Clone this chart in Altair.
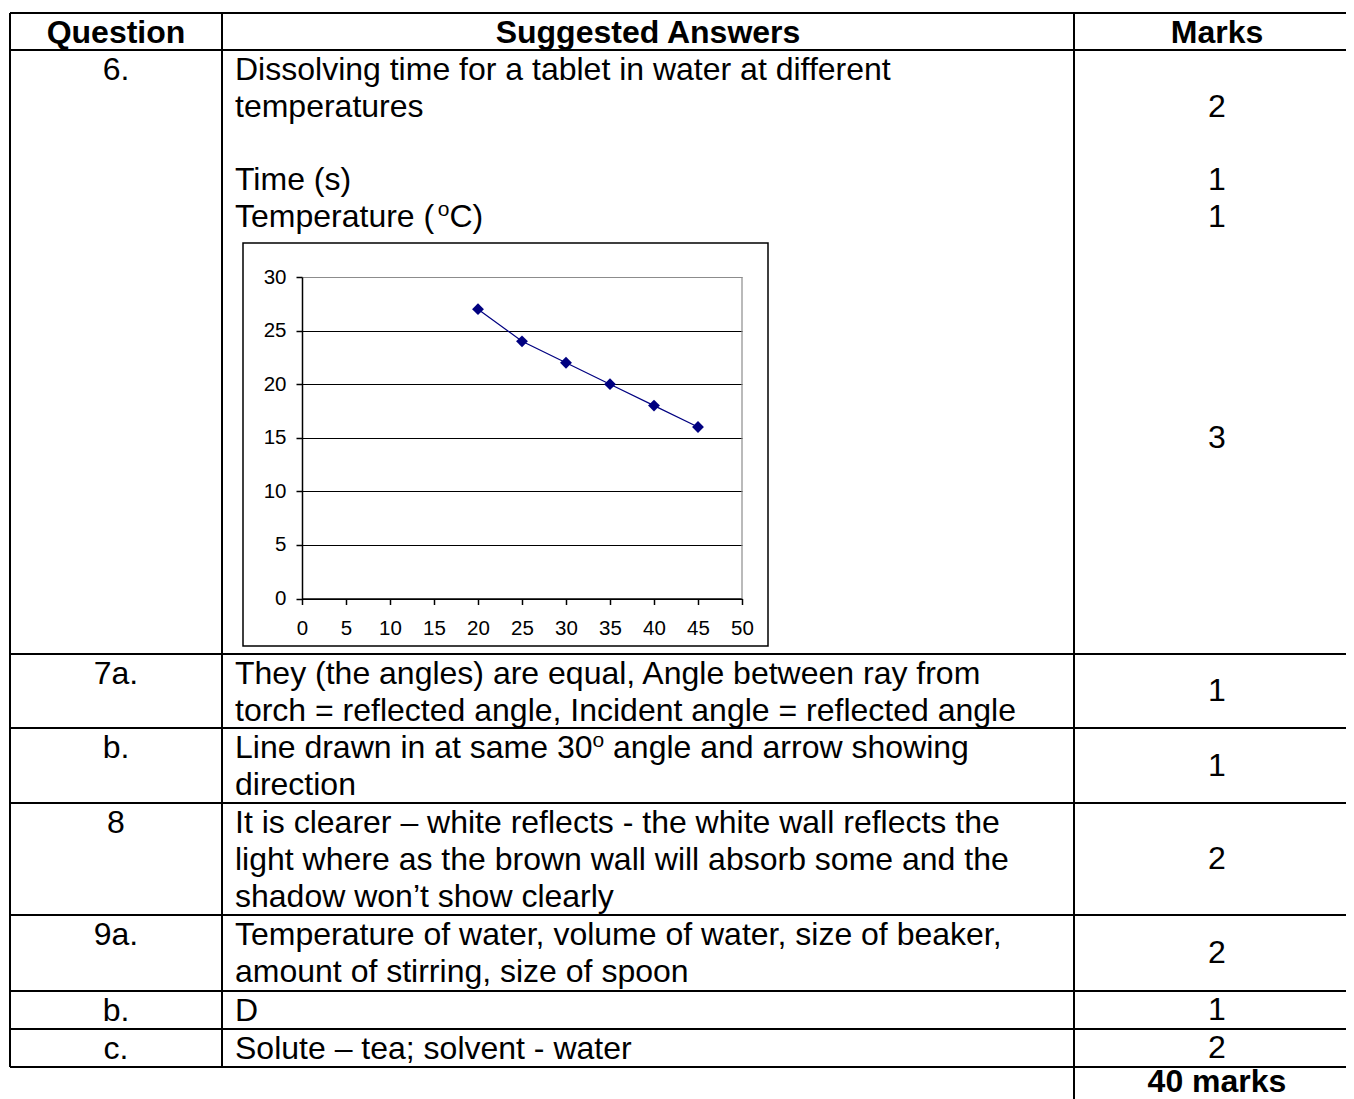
import altair as alt
import pandas as pd

# ---------------- data ----------------
temperature = [20, 25, 30, 35, 40, 45]
dissolve_time = [27, 24, 22, 20, 18, 16]
x_tick_values = [0, 5, 10, 15, 20, 25, 30, 35, 40, 45, 50]
y_tick_values = [0, 5, 10, 15, 20, 25, 30]

header = ["Question", "Suggested Answers", "Marks"]
questions = ["6.", "7a.", "b.", "8", "9a.", "b.", "c."]
answers = [
    ["Dissolving time for a tablet in water at different", "temperatures", "",
     "Time (s)", "Temperature (^oC)"],
    ["They (the angles) are equal, Angle between ray from",
     "torch = reflected angle, Incident angle = reflected angle"],
    ["Line drawn in at same 30^o angle and arrow showing", "direction"],
    ["It is clearer \u2013 white reflects - the white wall reflects the",
     "light where as the brown wall will absorb some and the",
     "shadow won\u2019t show clearly"],
    ["Temperature of water, volume of water, size of beaker,",
     "amount of stirring, size of spoon"],
    ["D"],
    ["Solute \u2013 tea; solvent - water"],
]
first_row_marks = ["", "2", "", "1", "1"]   # marks written beside the lines of row 6
chart_mark = "3"                           # mark beside the graph
row_marks = ["1", "1", "2", "2", "1", "2"]  # marks for the later rows
total = "40 marks"

# ---------------- layout (image pixels) ----------------
OFF = 8                       # page margin
W, H = 1338, 1091
FONT = "Liberation Sans"
F = 32                        # table font size
LH = 36.8                     # table line height
FIRST = 20                    # first text line centre below a row's top
row_edges = [13, 50, 654, 728, 803, 915, 991, 1029, 1067]
col_x = [10, 222, 1074]
right_x = 1362
text_left = 235
col_centres = [116, 648, 1217]
box = (243, 243, 768, 646)            # graph frame
plot_x = (302, 742)                   # x range of the plot area
plot_y = (598.5, 277)                 # y range of the plot area
SUP = 21
AXIS_FS = 20.5

# Arial advance widths (1/1000 em) for superscript placement
AW = {' ': 278, '(': 333, ')': 333, '0': 556, '3': 556, 'T': 611, 'L': 556,
      'C': 722, 'a': 556, 'd': 556, 'e': 556, 'i': 222, 'm': 833, 'n': 556,
      'p': 556, 'r': 333, 's': 500, 't': 278, 'u': 556, 'w': 722, 'o': 556}


def adv(s, size):
    return sum(AW.get(c, 556) for c in s) * size / 1000.0


left_txt, centre_txt, bold_txt, sup_txt = [], [], [], []


def add(lst, x, y, t):
    lst.append({"x": x - OFF, "y": y - OFF, "t": t})


# header
for cx, t in zip(col_centres, header):
    add(bold_txt, cx, row_edges[0] + FIRST - 0.5, t)

body = list(zip(row_edges[1:-1], row_edges[2:]))
for i, (top, bottom) in enumerate(body):
    add(centre_txt, col_centres[0], top + FIRST, questions[i])
    for k, line in enumerate(answers[i]):
        y = top + FIRST + k * LH
        if not line:
            continue
        if "^o" in line:
            pre, post = line.split("^o")
            add(left_txt, text_left, y, pre)
            xs = text_left + adv(pre, F)
            add(sup_txt, xs, y - 7, "o")
            xp = xs + adv("o", SUP)
            if post.startswith(" "):
                xp += adv(" ", F)
                post = post.lstrip()
            add(left_txt, xp, y, post)
        else:
            add(left_txt, text_left, y, line)
    if i == 0:
        for k, m in enumerate(first_row_marks):
            if m:
                add(centre_txt, col_centres[2], top + FIRST + k * LH, m)
        add(centre_txt, col_centres[2], (plot_y[0] + plot_y[1]) / 2, chart_mark)
    else:
        add(centre_txt, col_centres[2], (top + bottom) / 2, row_marks[i - 1])

add(bold_txt, col_centres[2], row_edges[-1] + FIRST - 5, total)

# table rules
rules = []
for y in row_edges:
    rules.append({"x": col_x[0] - OFF, "x2": right_x - OFF, "y": y - OFF, "y2": y - OFF})
for x in col_x[:2]:
    rules.append({"x": x - OFF, "x2": x - OFF, "y": row_edges[0] - OFF, "y2": row_edges[-1] - OFF})
rules.append({"x": col_x[2] - OFF, "x2": col_x[2] - OFF, "y": row_edges[0] - OFF, "y2": H + 10})

frame = pd.DataFrame([{"x": box[0] - OFF, "x2": box[2] - OFF, "y": box[1] - OFF, "y2": box[3] - OFF}])

# ---------------- chart ----------------
def px(f):
    return alt.X(f, scale=None, axis=None)


def py(f):
    return alt.Y(f, scale=None, axis=None)


table_lines = alt.Chart(pd.DataFrame(rules)).mark_rule(color="black", strokeWidth=2).encode(
    x=px("x:Q"), x2="x2:Q", y=py("y:Q"), y2="y2:Q")

box_rect = alt.Chart(frame).mark_rect(filled=False, color="black", strokeWidth=1.5).encode(
    x=px("x:Q"), x2="x2:Q", y=py("y:Q"), y2="y2:Q")


def text_layer(rows, align, size, weight):
    return alt.Chart(pd.DataFrame(rows)).mark_text(
        align=align, baseline="middle", font=FONT, fontSize=size,
        fontWeight=weight, color="black").encode(x=px("x:Q"), y=py("y:Q"), text="t:N")


t_left = text_layer(left_txt, "left", F, "normal")
t_centre = text_layer(centre_txt, "center", F, "normal")
t_bold = text_layer(bold_txt, "center", F, "bold")
t_sup = text_layer(sup_txt, "left", SUP, "normal")

xscale = alt.Scale(domain=[0, 50], range=[plot_x[0] - OFF, plot_x[1] - OFF], nice=False, zero=False)
yscale = alt.Scale(domain=[0, 30], range=[plot_y[0] - OFF, plot_y[1] - OFF], nice=False, zero=False)

xaxis = alt.Axis(values=x_tick_values, orient="bottom", offset=(plot_y[0] - OFF) - H,
                 title=None, grid=False, domainColor="black", domainWidth=1.5,
                 tickColor="black", tickSize=6, tickWidth=1.5, labelFont=FONT,
                 labelFontSize=AXIS_FS, labelColor="black", labelPadding=14,
                 labelFlush=False, labelOverlap=False)
yaxis = alt.Axis(values=y_tick_values, orient="left", offset=-(plot_x[0] - OFF),
                 title=None, grid=True,
                 gridColor=alt.condition("datum.value === 30", alt.value("#8c8c8c"), alt.value("black")),
                 gridWidth=1.2, domainColor="black", domainWidth=1.5,
                 tickColor="black", tickSize=6, tickWidth=1.5, labelFont=FONT,
                 labelFontSize=AXIS_FS, labelColor="black", labelPadding=10,
                 labelOverlap=False)

series = pd.DataFrame({"temperature": temperature, "time": dissolve_time})
enc_x = alt.X("temperature:Q", scale=xscale, axis=xaxis)
enc_y = alt.Y("time:Q", scale=yscale, axis=yaxis)

border = alt.Chart(pd.DataFrame({"temperature": [50], "time": [0], "time2": [30]})).mark_rule(
    color="#8c8c8c", strokeWidth=1.2).encode(x=enc_x, y=enc_y, y2="time2:Q")

line = alt.Chart(series).mark_line(color="#000080", strokeWidth=1.2).encode(x=enc_x, y=enc_y)
pts = alt.Chart(series).mark_point(shape="diamond", filled=True, size=140, color="#000080",
                                   opacity=1).encode(x=enc_x, y=enc_y)

chart = alt.layer(
    table_lines, box_rect, t_left, t_centre, t_bold, t_sup, border, line, pts
).properties(
    width=W, height=H, autosize=alt.AutoSizeParams(type="none"), padding=0,
    background="white"
).configure_view(stroke=None)

chart.save("out.html", embed_options={"renderer": "svg", "actions": False})
